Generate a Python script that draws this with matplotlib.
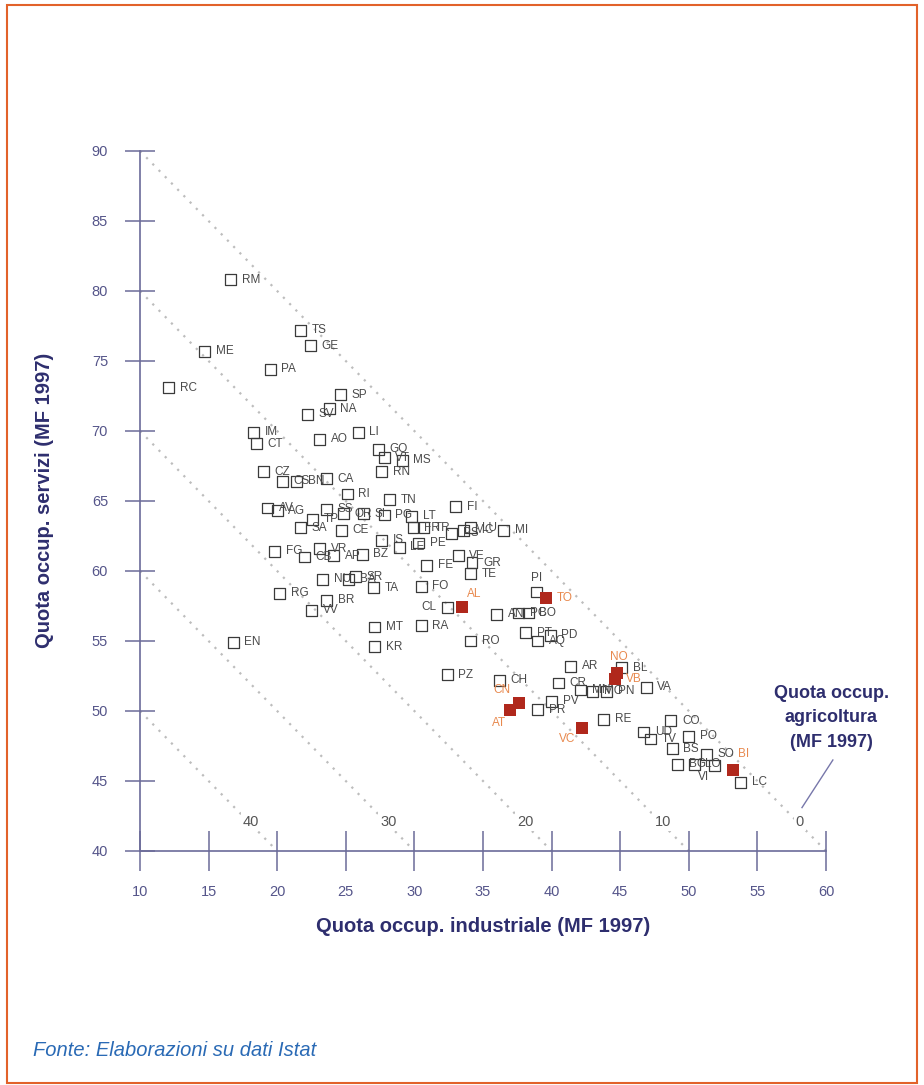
import matplotlib
matplotlib.use('Agg')
import matplotlib.pyplot as plt
from matplotlib.patches import Rectangle

plt.rcParams['font.family'] = ['Liberation Sans', 'DejaVu Sans']

# province italiane: quota occupati industria / servizi (MF 1997)
prov = ['RM', 'TS', 'GE', 'ME', 'PA', 'RC', 'SP', 'NA', 'SV', 'LI',
        'IM', 'CT', 'AO', 'GO', 'VT', 'MS', 'RN', 'CZ', 'CS', 'BN',
        'CA', 'RI', 'TN', 'FI', 'AV', 'AG', 'SS', 'OR', 'SI', 'PG',
        'LT', 'FR', 'SA', 'TP', 'CE', 'FG', 'CB', 'VR', 'AP', 'BZ',
        'IS', 'LE', 'PE', 'TR', 'PS', 'MC', 'LU', 'MI', 'FE', 'VE',
        'GR', 'TE', 'PI', 'FO', 'RA', 'MT', 'SR', 'NU', 'BA', 'TA',
        'RG', 'BR', 'VV', 'EN', 'KR', 'CL', 'RO', 'PZ', 'CH', 'AR',
        'BL', 'VA', 'CR', 'MN', 'MO', 'PN', 'PV', 'PR', 'RE', 'CO',
        'UD', 'TV', 'PO', 'BS', 'BG', 'LO', 'SO', 'VI', 'LC', 'PD',
        'BO', 'AN', 'PC', 'PT', 'AQ']
ind = [16.6, 21.7, 22.4, 14.7, 19.5, 12.1, 24.6, 23.8, 22.2, 25.9,
       18.3, 18.5, 23.1, 27.4, 27.8, 29.1, 27.6, 19.0, 20.4, 21.4,
       23.6, 25.1, 28.2, 33.0, 19.3, 20.0, 23.6, 24.8, 26.3, 27.8,
       29.8, 29.9, 21.7, 22.6, 24.7, 19.8, 22.0, 23.1, 24.1, 26.2,
       27.6, 28.9, 30.3, 30.7, 32.7, 33.6, 34.1, 36.5, 30.9, 33.2,
       34.2, 34.1, 38.9, 30.5, 30.5, 27.1, 25.7, 23.3, 25.2, 27.0,
       20.2, 23.6, 22.5, 16.8, 27.1, 32.4, 34.1, 32.4, 36.2, 41.4,
       45.1, 46.9, 40.5, 42.1, 43.0, 44.0, 40.0, 39.0, 43.8, 48.7,
       46.7, 47.2, 50.0, 48.8, 49.2, 50.4, 51.3, 51.9, 53.8, 39.9,
       38.3, 36.0, 37.6, 38.1, 39.0]
serv = [80.8, 77.2, 76.1, 75.7, 74.4, 73.1, 72.6, 71.6, 71.2, 69.9,
        69.9, 69.1, 69.4, 68.7, 68.1, 67.9, 67.1, 67.1, 66.4, 66.4,
        66.6, 65.5, 65.1, 64.6, 64.5, 64.3, 64.4, 64.1, 64.1, 64.0,
        63.9, 63.1, 63.1, 63.7, 62.9, 61.4, 61.0, 61.6, 61.1, 61.2,
        62.2, 61.7, 62.0, 63.1, 62.7, 62.9, 63.1, 62.9, 60.4, 61.1,
        60.6, 59.8, 58.5, 58.9, 56.1, 56.0, 59.6, 59.4, 59.4, 58.8,
        58.4, 57.9, 57.2, 54.9, 54.6, 57.4, 55.0, 52.6, 52.2, 53.2,
        53.1, 51.7, 52.0, 51.5, 51.4, 51.4, 50.7, 50.1, 49.4, 49.3,
        48.5, 48.0, 48.2, 47.3, 46.2, 46.2, 46.9, 46.1, 44.9, 55.4,
        57.0, 56.9, 57.0, 55.6, 55.0]

# province piemontesi, evidenziate
piem = ['AL', 'TO', 'NO', 'VB', 'CN', 'AT', 'VC', 'BI']
piem_ind = [33.5, 39.6, 44.8, 44.6, 37.6, 37.0, 42.2, 53.2]
piem_serv = [57.4, 58.1, 52.7, 52.3, 50.6, 50.1, 48.8, 45.8]

# quota agricoltura = 100 - industria - servizi
agri_levels = [40, 30, 20, 10, 0]

# posizione etichette (offset in punti, allineamento)
label_pos = {
    'PI': (0, 6, 'center', 'bottom'),
    'CL': (-8, 0, 'right', 'center'),
    'VI': (-4, -4, 'right', 'top'),
    'AL': (3, 5, 'left', 'bottom'),
    'NO': (1, 7, 'center', 'bottom'),
    'CN': (-6, 5, 'right', 'bottom'),
    'AT': (-3, -5, 'right', 'top'),
    'VC': (-5, -4, 'right', 'top'),
    'BI': (4, 7, 'left', 'bottom'),
}
default_pos = (8, 0, 'left', 'center')

navy = '#2e2e6e'
axis_col = '#6b6b99'

fig = plt.figure(figsize=(9.24, 10.85), dpi=100)
ax = fig.add_axes([140 / 924, 1 - 851 / 1085, 686 / 924, 700 / 1085])
ax.set_xlim(10, 60)
ax.set_ylim(40, 90)

for s in ['top', 'right']:
    ax.spines[s].set_visible(False)
for s in ['left', 'bottom']:
    ax.spines[s].set_color(axis_col)
    ax.spines[s].set_linewidth(1.2)

ax.set_xticks(range(10, 61, 5))
ax.set_yticks(range(40, 91, 5))
ax.tick_params(axis='x', direction='inout', length=29, width=1.1,
               color=axis_col, labelcolor='#55558a', labelsize=10.5, pad=10)
ax.tick_params(axis='y', direction='inout', length=22, width=1.1,
               color=axis_col, labelcolor='#55558a', labelsize=10.5, pad=12)

# rette a quota agricola costante
for k in agri_levels:
    ax.plot([10, 60 - k], [90 - k, 40], ls=(0, (1, 3)), color='#bdbdbd',
            lw=1.6, zorder=1, clip_on=False)
    ax.text(100 - k - 42.1 + 0.2, 42.1, str(k), ha='center', va='center',
            fontsize=10.5, color='#555555', zorder=2,
            bbox=dict(boxstyle='square,pad=0.15', fc='white', ec='none'))

ax.scatter(ind, serv, marker='s', s=62, facecolors='none',
           edgecolors='#3a3a3a', linewidths=0.9, zorder=3)
ax.scatter(piem_ind, piem_serv, marker='s', s=70, color='#b0281c',
           linewidths=0, zorder=4)

for lab, x, y in zip(prov, ind, serv):
    dx, dy, ha, va = label_pos.get(lab, default_pos)
    ax.annotate(lab, (x, y), xytext=(dx, dy), textcoords='offset points',
                ha=ha, va=va, fontsize=8.5, color='#4a4a4a', zorder=5)
for lab, x, y in zip(piem, piem_ind, piem_serv):
    dx, dy, ha, va = label_pos.get(lab, default_pos)
    ax.annotate(lab, (x, y), xytext=(dx, dy), textcoords='offset points',
                ha=ha, va=va, fontsize=8.5, color='#e8894e', zorder=5)

ax.text(60.4, 49.5, 'Quota occup.\nagricoltura\n(MF 1997)', ha='center',
        va='center', fontsize=13, fontweight='bold', color=navy,
        linespacing=1.55, clip_on=False)
ax.plot([60.5, 58.25], [46.5, 43.1], color='#7777aa', lw=1, clip_on=False)

fig.text(45 / 924, 1 - 500 / 1085, 'Quota occup. servizi (MF 1997)',
         rotation=90, ha='center', va='center', fontsize=14.5,
         fontweight='bold', color=navy)
fig.text(483 / 924, 1 - 926 / 1085, 'Quota occup. industriale (MF 1997)',
         ha='center', va='center', fontsize=14.5, fontweight='bold',
         color=navy)

fig.text(33 / 924, 1 - 1050 / 1085, 'Fonte: Elaborazioni su dati Istat',
         ha='left', va='center', fontsize=14.5, style='italic',
         color='#2a6ab5',
         family=['Liberation Sans Narrow', 'Liberation Sans'])

fig.patches.append(Rectangle((7 / 924, 0.002), 910 / 924, 0.993,
                             transform=fig.transFigure, fill=False,
                             ec='#e2622a', lw=1.5))

fig.savefig('out.png', dpi=100)
